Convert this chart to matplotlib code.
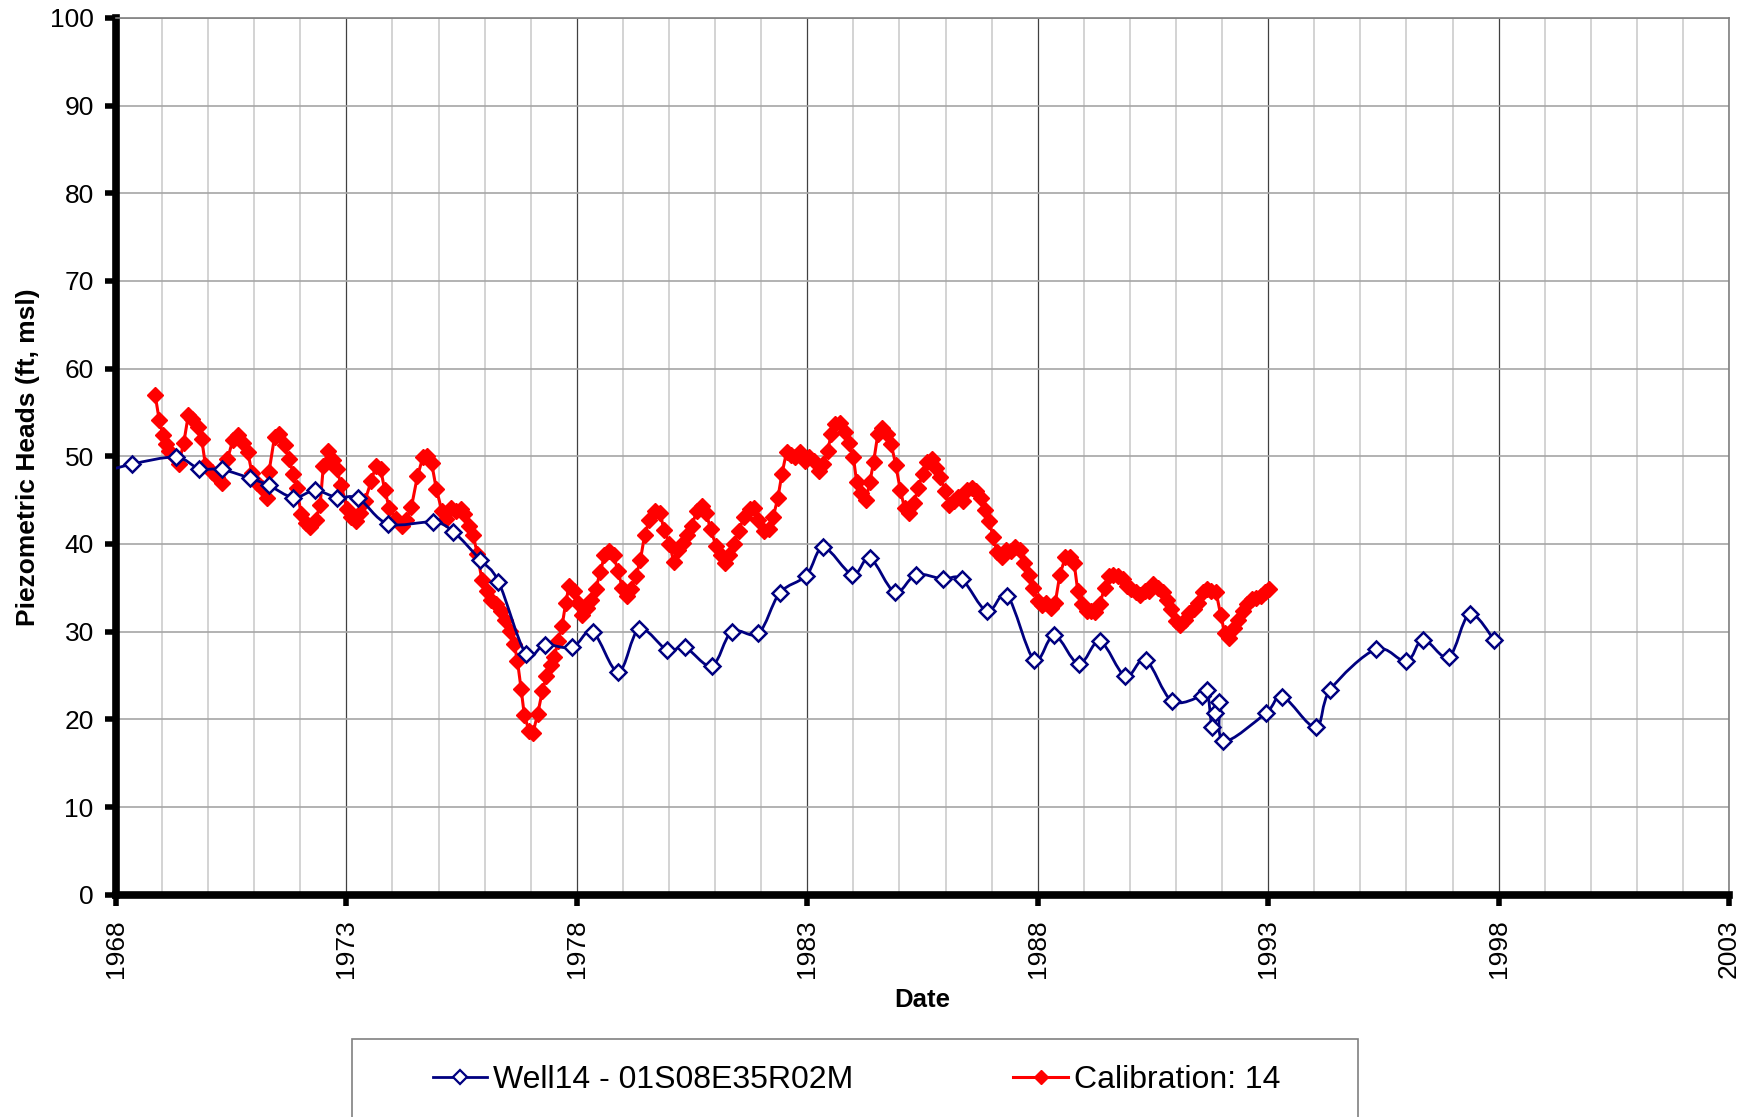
import matplotlib
matplotlib.use('Agg')
import matplotlib.pyplot as plt
import numpy as np
from matplotlib.path import Path
from matplotlib.patches import PathPatch, Rectangle
from matplotlib.lines import Line2D

plt.rcParams['font.family'] = ['Liberation Sans', 'DejaVu Sans']

# observed heads, Well14 (first point lies just left of the axis)
well_year = [1967.6, 1968.34, 1969.3, 1969.8, 1970.29, 1970.91, 1971.31, 1971.85,
             1972.32, 1972.79, 1973.26, 1973.9, 1974.88, 1975.32, 1975.9, 1976.3,
             1976.89, 1977.3, 1977.9, 1978.34, 1978.9, 1979.35, 1979.96, 1980.35,
             1980.93, 1981.36, 1981.94, 1982.4, 1982.98, 1983.35, 1983.98, 1984.36,
             1984.9, 1985.36, 1985.94, 1986.35, 1986.9, 1987.34, 1987.92, 1988.36,
             1988.89, 1989.35, 1989.9, 1990.34, 1990.91, 1991.56, 1991.68, 1991.78,
             1991.85, 1991.94, 1992.03, 1992.95, 1993.31, 1994.03, 1994.35, 1995.34,
             1996.0, 1996.36, 1996.92, 1997.37, 1997.91]
well_head = [48.0, 49.1, 49.9, 48.6, 48.5, 47.5, 46.7, 45.3,
             46.1, 45.3, 45.2, 42.3, 42.5, 41.4, 38.2, 35.7,
             27.5, 28.5, 28.2, 30.0, 25.4, 30.3, 27.9, 28.2,
             26.1, 30.0, 29.8, 34.4, 36.4, 39.6, 36.5, 38.4,
             34.5, 36.5, 36.0, 36.0, 32.3, 34.1, 26.8, 29.6,
             26.3, 28.9, 24.9, 26.8, 22.1, 22.7, 23.3, 19.1,
             20.7, 22.0, 17.5, 20.7, 22.6, 19.1, 23.4, 28.0,
             26.6, 29.1, 27.1, 32.0, 29.0]

# model calibration heads
calib_year = [1968.85, 1968.94, 1969.02, 1969.09, 1969.16, 1969.26, 1969.36, 1969.47,
              1969.57, 1969.65, 1969.79, 1969.86, 1969.94, 1970.08, 1970.20, 1970.30,
              1970.42, 1970.54, 1970.64, 1970.76, 1970.86, 1970.95, 1971.07, 1971.17,
              1971.27, 1971.32, 1971.44, 1971.53, 1971.66, 1971.75, 1971.85, 1971.92,
              1972.02, 1972.12, 1972.21, 1972.33, 1972.43, 1972.50, 1972.60, 1972.70,
              1972.79, 1972.89, 1973.01, 1973.11, 1973.20, 1973.30, 1973.40, 1973.54,
              1973.64, 1973.74, 1973.83, 1973.93, 1974.08, 1974.20, 1974.29, 1974.41,
              1974.54, 1974.66, 1974.75, 1974.85, 1974.95, 1975.07, 1975.17, 1975.26,
              1975.38, 1975.48, 1975.55, 1975.65, 1975.75, 1975.84, 1975.94, 1976.04,
              1976.13, 1976.25, 1976.35, 1976.45, 1976.55, 1976.64, 1976.71, 1976.79,
              1976.86, 1976.96, 1977.05, 1977.15, 1977.25, 1977.34, 1977.44, 1977.51,
              1977.59, 1977.68, 1977.76, 1977.83, 1977.93, 1978.02, 1978.12, 1978.22,
              1978.31, 1978.41, 1978.51, 1978.60, 1978.70, 1978.80, 1978.89, 1978.99,
              1979.09, 1979.18, 1979.28, 1979.38, 1979.47, 1979.57, 1979.69, 1979.81,
              1979.89, 1980.01, 1980.10, 1980.20, 1980.30, 1980.39, 1980.49, 1980.61,
              1980.71, 1980.81, 1980.90, 1981.02, 1981.12, 1981.22, 1981.31, 1981.41,
              1981.51, 1981.63, 1981.75, 1981.85, 1981.94, 1982.06, 1982.16, 1982.26,
              1982.36, 1982.45, 1982.55, 1982.65, 1982.74, 1982.84, 1982.94, 1983.03,
              1983.15, 1983.25, 1983.35, 1983.44, 1983.52, 1983.61, 1983.71, 1983.81,
              1983.90, 1984.00, 1984.07, 1984.17, 1984.27, 1984.36, 1984.44, 1984.53,
              1984.63, 1984.73, 1984.82, 1984.92, 1985.02, 1985.11, 1985.21, 1985.31,
              1985.41, 1985.50, 1985.60, 1985.70, 1985.79, 1985.89, 1985.99, 1986.08,
              1986.18, 1986.28, 1986.37, 1986.47, 1986.57, 1986.66, 1986.76, 1986.86,
              1986.95, 1987.03, 1987.12, 1987.22, 1987.32, 1987.41, 1987.51, 1987.61,
              1987.70, 1987.80, 1987.90, 1988.00, 1988.09, 1988.19, 1988.29, 1988.38,
              1988.48, 1988.60, 1988.70, 1988.79, 1988.87, 1988.96, 1989.06, 1989.16,
              1989.25, 1989.35, 1989.45, 1989.54, 1989.64, 1989.74, 1989.84, 1989.93,
              1990.03, 1990.13, 1990.22, 1990.32, 1990.42, 1990.51, 1990.61, 1990.71,
              1990.80, 1990.90, 1991.00, 1991.09, 1991.19, 1991.29, 1991.38, 1991.48,
              1991.58, 1991.67, 1991.77, 1991.87, 1991.97, 1992.06, 1992.16, 1992.26,
              1992.35, 1992.45, 1992.55, 1992.64, 1992.74, 1992.84, 1992.93, 1993.01]
calib_head = [57.0, 54.1, 52.4, 51.4, 50.6, 50.0, 49.1, 51.5,
              54.7, 54.2, 53.3, 52.0, 49.0, 48.2, 47.6, 47.0,
              49.7, 51.9, 52.4, 51.5, 50.5, 48.1, 47.0, 46.4,
              45.3, 48.2, 52.2, 52.5, 51.3, 49.7, 48.0, 46.4,
              43.4, 42.4, 41.9, 42.7, 44.5, 48.9, 50.6, 49.6,
              48.5, 46.7, 44.0, 43.1, 42.6, 43.5, 44.9, 47.2,
              48.9, 48.6, 46.2, 44.1, 42.9, 42.0, 42.7, 44.2,
              47.7, 49.9, 50.0, 49.2, 46.3, 43.8, 42.9, 44.1,
              43.8, 44.0, 43.4, 42.1, 41.0, 38.9, 35.9, 34.6,
              33.6, 33.2, 32.4, 31.3, 30.1, 28.6, 26.7, 23.5,
              20.5, 18.7, 18.5, 20.6, 23.2, 24.9, 26.2, 27.1,
              28.9, 30.7, 33.3, 35.2, 34.6, 33.3, 31.9, 32.7,
              33.6, 34.9, 36.8, 38.7, 39.2, 38.7, 36.9, 35.0,
              34.1, 34.9, 36.3, 38.2, 41.0, 42.7, 43.8, 43.5,
              41.6, 40.0, 38.0, 39.3, 40.1, 41.0, 42.1, 43.8,
              44.3, 43.5, 41.7, 39.8, 38.8, 37.8, 38.8, 40.0,
              41.5, 43.1, 44.0, 44.1, 42.7, 41.5, 41.7, 43.1,
              45.2, 48.0, 50.5, 50.1, 49.9, 50.5, 49.5, 49.9,
              49.5, 48.3, 49.1, 50.6, 52.5, 53.7, 53.8, 52.8,
              51.5, 49.9, 47.1, 45.8, 45.0, 47.1, 49.4, 52.5,
              53.2, 52.5, 51.4, 49.0, 46.1, 44.1, 43.5, 44.7,
              46.4, 48.0, 49.4, 49.7, 48.7, 47.6, 46.0, 44.4,
              44.9, 45.4, 44.9, 46.1, 46.4, 46.0, 45.3, 43.9,
              42.6, 40.8, 39.1, 38.5, 39.3, 39.2, 39.6, 39.3,
              37.8, 36.5, 35.0, 33.5, 33.0, 33.3, 32.7, 33.3,
              36.5, 38.5, 38.5, 37.8, 34.6, 33.2, 32.4, 32.4,
              32.2, 33.2, 35.0, 36.3, 36.5, 36.4, 36.0, 35.2,
              34.9, 34.5, 34.2, 34.6, 34.6, 35.4, 35.0, 34.5,
              33.6, 32.6, 31.2, 30.8, 31.3, 32.1, 32.6, 33.3,
              34.5, 34.9, 34.6, 34.5, 31.9, 29.8, 29.3, 30.4,
              31.3, 32.3, 33.2, 33.7, 33.8, 34.1, 34.5, 34.9]

well_label = 'Well14 - 01S08E35R02M'
calib_label = 'Calibration: 14'
year_ticks = [1968, 1973, 1978, 1983, 1988, 1993, 1998, 2003]
navy = '#000080'


def smooth_path(xs, ys):
    # Excel style smoothed line: cubic bezier through every point
    p = np.column_stack([xs, ys])
    n = len(p)
    verts = [p[0]]
    codes = [Path.MOVETO]
    for i in range(n - 1):
        p0 = p[max(i - 1, 0)]
        p1 = p[i]
        p2 = p[i + 1]
        p3 = p[min(i + 2, n - 1)]
        verts += [p1 + (p2 - p0) / 6.0, p2 - (p3 - p1) / 6.0, p2]
        codes += [Path.CURVE4] * 3
    return Path(verts, codes)


fig = plt.figure(figsize=(17.49, 11.17), dpi=100)
ax = fig.add_axes([0.0663, 0.1990, 0.9223, 0.7850])

ax.set_xlim(1968, 2003)
ax.set_ylim(0, 100)
ax.set_xticks(year_ticks)
ax.set_xticks(np.arange(1968, 2004, 1), minor=True)
ax.set_yticks(np.arange(0, 101, 10))
ax.set_axisbelow(True)
ax.grid(True, axis='x', which='minor', color='#cccccc', lw=1.2)
ax.grid(True, axis='x', which='major', color='#404040', lw=0.9)
ax.grid(True, axis='y', which='major', color='#a6a6a6', lw=1.2)

# calibration series
ax.plot(calib_year, calib_head, color='red', lw=2.2, marker='D', ms=8,
        mfc='red', mec='red', zorder=3)

# observed series, smoothed line + open diamonds
ax.add_patch(PathPatch(smooth_path(well_year, well_head), fill=False,
                       edgecolor=navy, lw=2.0, zorder=4))
ax.plot(well_year, well_head, ls='none', marker='D', ms=8, mfc='white',
        mec=navy, mew=1.8, zorder=5)

for s in ['left', 'bottom']:
    ax.spines[s].set_linewidth(5.5)
    ax.spines[s].set_color('black')
for s in ['top', 'right']:
    ax.spines[s].set_linewidth(1.2)
    ax.spines[s].set_color('#808080')

ax.tick_params(axis='both', which='major', direction='out', length=8, width=4,
               labelsize=19, pad=8, colors='black')
ax.tick_params(axis='x', which='minor', length=0)
ax.tick_params(axis='x', which='major', pad=10)
for lab in ax.get_xticklabels():
    lab.set_rotation(90)

ax.text(0.5, -0.12, 'Date', transform=ax.transAxes, ha='center', va='center',
        fontsize=18.5, fontweight='bold')
fig.text(0.016, 0.591, 'Piezometric Heads (ft, msl)', rotation=90, ha='center',
         va='center', fontsize=19, fontweight='bold')

h1 = Line2D([], [], color=navy, lw=2.0, marker='D', ms=7, mfc='white',
            mec=navy, mew=1.6)
h2 = Line2D([], [], color='red', lw=2.2, marker='D', ms=7, mfc='red', mec='red')
fig.legend([h1, h2], [well_label, calib_label], loc='center',
           bbox_to_anchor=(0.4898, 0.0334), ncol=2, frameon=False, fontsize=23,
           handlelength=1.7, handletextpad=0.2, columnspacing=5.0)
fig.add_artist(Rectangle((0.2015, -0.05), 0.5747, 0.1194, transform=fig.transFigure,
                         fill=False, edgecolor='#808080', lw=1.2))

fig.savefig('out.png', dpi=100)
